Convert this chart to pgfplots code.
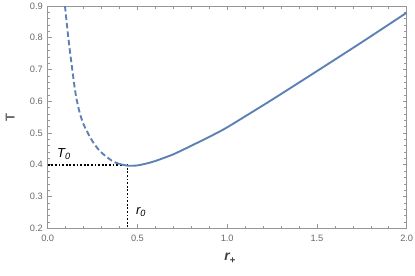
\documentclass[border=0pt]{standalone}
\usepackage{pgfplots}
\pgfplotsset{compat=1.18}
\usepackage{fontspec}
\setmainfont{Liberation Sans}
\definecolor{mblue}{rgb}{0.368417,0.506779,0.709798}
\definecolor{framegray}{RGB}{150,150,150}
\definecolor{labgray}{RGB}{105,105,105}
\begin{document}
\begin{tikzpicture}
\begin{axis}[
  scale only axis, width=359bp, height=222.3bp,
  xmin=0, xmax=2, ymin=0.2, ymax=0.9,
  xtick={0,0.5,1,1.5,2}, xticklabels={0.0,0.5,1.0,1.5,2.0},
  ytick={0.2,0.3,0.4,0.5,0.6,0.7,0.8,0.9},
  yticklabels={0.2,0.3,0.4,0.5,0.6,0.7,0.8,0.9},
  minor x tick num=4, minor y tick num=4,
  tick align=inside,
  axis line style={framegray, line width=0.8bp},
  every tick/.style={framegray, line width=0.6bp},
  major tick length=4bp, minor tick length=2.5bp,
  xticklabel style={font=\fontsize{9.3}{10}\selectfont, color=labgray, yshift=-3.5bp},
  yticklabel style={font=\fontsize{9.3}{10}\selectfont, color=labgray, xshift=-1.3bp},
  xlabel={\bfseries\itshape r\textsubscript{+}},
  ylabel={\bfseries T},
  xlabel style={at={(axis description cs:0.508,-0.135)}, anchor=center, font=\fontsize{14}{15}\selectfont, color=black!75},
  ylabel style={at={(axis description cs:-0.1045,0.5)}, anchor=center, font=\fontsize{13}{14}\selectfont, color=labgray},
  clip=true,
]
\addplot[black, line width=1.35bp, dash pattern=on 1.8bp off 1.8bp] coordinates {(0,0.399) (0.446,0.399) (0.446,0.2)};
\addplot[mblue, line width=1.9bp, dash pattern=on 5.5bp off 3bp, smooth, tension=0.4] coordinates {
(0.0964,0.900) (0.105,0.852) (0.115,0.800) (0.125,0.752) (0.137,0.700) (0.147,0.656) (0.158,0.615) (0.168,0.588) (0.180,0.560) (0.200,0.527) (0.235,0.488) (0.260,0.465) (0.291,0.443) (0.330,0.424) (0.366,0.410) (0.403,0.402)};
\addplot[mblue, line width=1.9bp, smooth, tension=0.4] coordinates {
(0.403,0.402) (0.449,0.397) (0.50,0.398) (0.55,0.404) (0.60,0.412) (0.70,0.433) (0.80,0.460) (0.90,0.488) (1.00,0.518) (1.25,0.605) (1.50,0.695) (1.75,0.786) (2.00,0.879)};
\node[font=\fontsize{13}{14}\selectfont] at (axis cs:0.09,0.433) {\itshape T\textsubscript{0}};
\node[font=\fontsize{13}{14}\selectfont] at (axis cs:0.52,0.25) {\itshape r\textsubscript{0}};
\end{axis}
\pgfresetboundingbox
\path (-47.7bp,-47.7bp) rectangle (367.3bp,228.3bp);
\end{tikzpicture}
\end{document}
